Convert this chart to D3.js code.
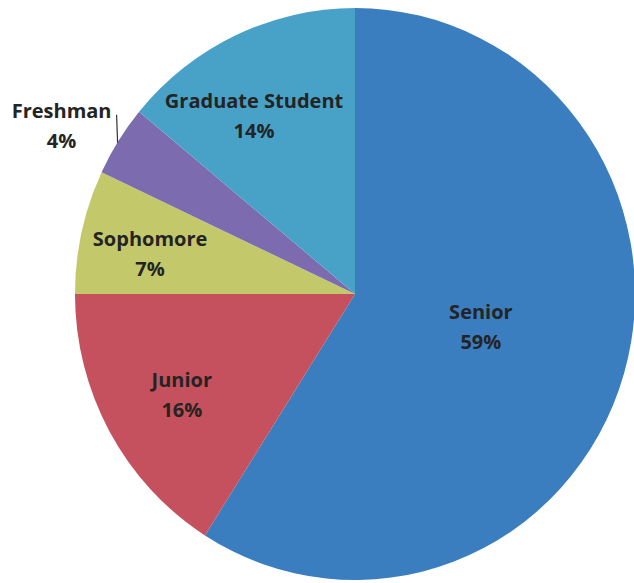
<!DOCTYPE html>
<html>
<head>
<meta charset="utf-8">
<script src="https://cdn.jsdelivr.net/npm/d3@7"></script>
<style>
  body { margin: 0; background: #fff; }
  text { font-family: "Open Sans", sans-serif; font-weight: 700; fill: #242424; }
</style>
</head>
<body>
<script>
// data (clockwise from 12 o'clock)
const categories = ["Senior", "Junior", "Sophomore", "Freshman", "Graduate Student"];
const percents = [59, 16, 7, 4, 14];
const colors = ["#3b7ec0", "#c4515d", "#c3c86b", "#7c6bae", "#48a2c8"];

const width = 634, height = 583;
const cx = 355, cy = 294;
const rx = 280, ry = 286;

const svg = d3.select("body").append("svg")
  .attr("width", width)
  .attr("height", height);

const pie = d3.pie().sort(null).value(d => d.v);
const arcs = pie(categories.map((c, i) => ({name: c, v: percents[i], color: colors[i]})));

const arc = d3.arc().innerRadius(0).outerRadius(1);

// slightly squashed circle, like the scan
const g = svg.append("g")
  .attr("transform", "translate(" + cx + "," + cy + ") scale(" + rx + "," + ry + ")");

g.selectAll("path")
  .data(arcs)
  .enter().append("path")
  .attr("d", arc)
  .attr("fill", d => d.data.color);

// label placement: distance from centre (fraction of radius), angle nudge (degrees)
const labelR = [0.464, 0.712, 0.745, 1.0, 0.719];
const labelNudge = [-1.9, -0.9, -1.8, 0, -4.9];

function pos(d, f, nudge) {
  const a = (d.startAngle + d.endAngle) / 2 + (nudge || 0) * Math.PI / 180;
  return [cx + Math.sin(a) * rx * f, cy - Math.cos(a) * ry * f];
}

arcs.forEach(function(d, i) {
  let p = pos(d, labelR[i], labelNudge[i]);
  if (d.data.name === "Freshman") {
    // outside label with leader line
    const e = pos(d, 1.0);
    svg.append("line")
      .attr("x1", e[0] - 1).attr("y1", e[1] + 2)
      .attr("x2", e[0] - 2).attr("y2", e[1] - 26)
      .attr("stroke", "#333").attr("stroke-width", 1.2);
    p = [e[0] - 57, e[1] - 15];
  }
  const t = svg.append("text")
    .attr("text-anchor", "middle")
    .attr("font-size", 20);
  t.append("tspan").attr("x", p[0]).attr("y", p[1] - 8).text(d.data.name);
  t.append("tspan").attr("x", p[0]).attr("y", p[1] + 22).text(percents[i] + "%");
});
</script>
</body>
</html>
